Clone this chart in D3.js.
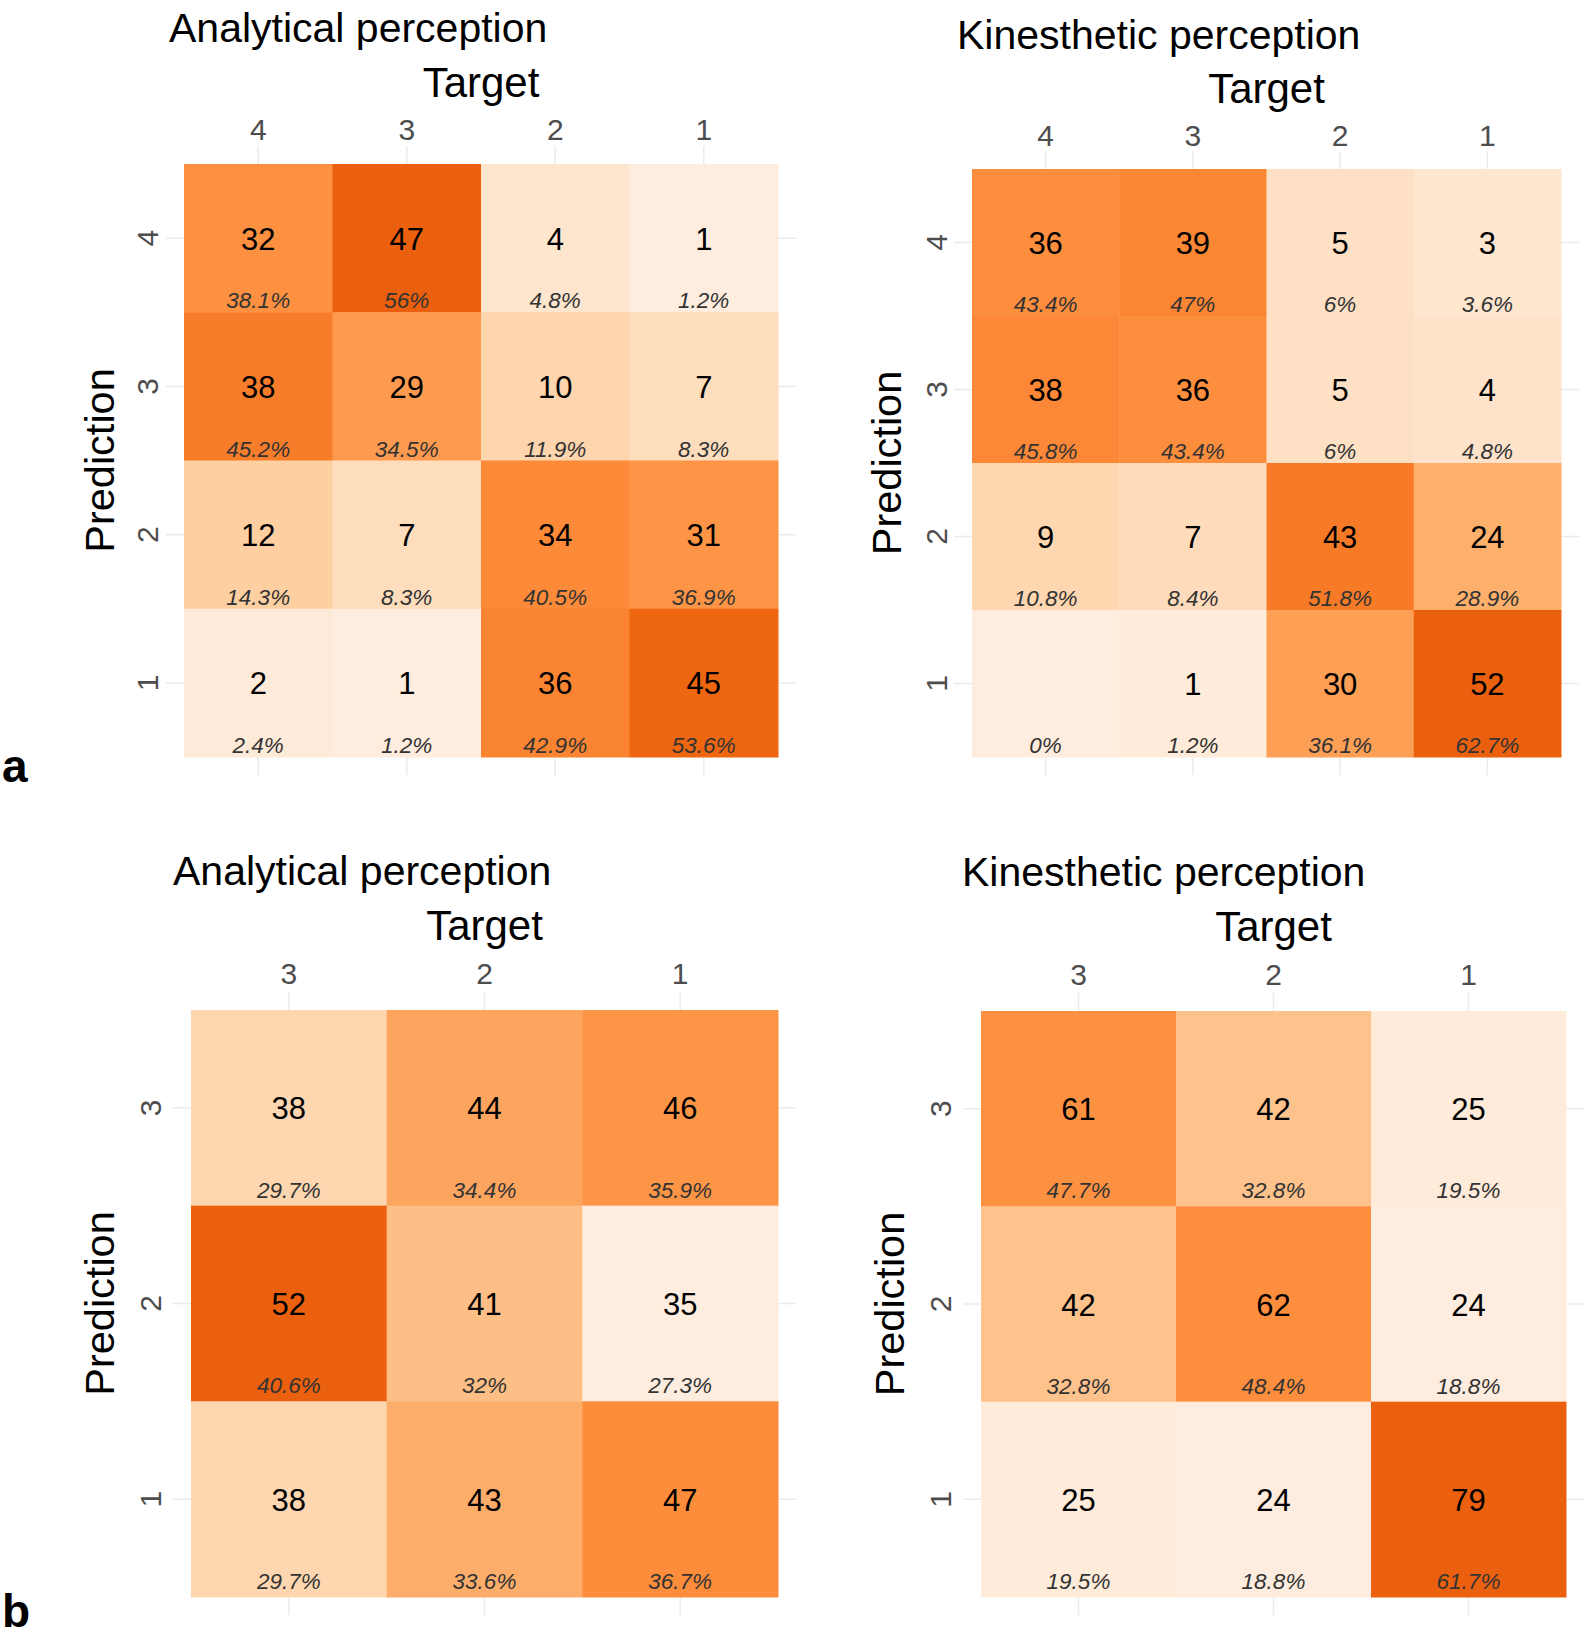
<!DOCTYPE html>
<html>
<head>
<meta charset="utf-8">
<script src="https://cdn.jsdelivr.net/npm/d3@7"></script>
<style>
  html, body { margin: 0; padding: 0; background: #fff; }
  svg { display: block; font-family: "Liberation Sans", Arial, sans-serif; }
</style>
</head>
<body>
<svg id="chart" width="1594" height="1640"></svg>
<script>
// ---------------- data ----------------
const classes4 = ["4", "3", "2", "1"];
const classes3 = ["3", "2", "1"];

// rows = Prediction (top to bottom), columns = Target (left to right)
const analyticalA_counts = [
  [32, 47, 4, 1],
  [38, 29, 10, 7],
  [12, 7, 34, 31],
  [2, 1, 36, 45]
];
const analyticalA_pct = [
  ["38.1%", "56%", "4.8%", "1.2%"],
  ["45.2%", "34.5%", "11.9%", "8.3%"],
  ["14.3%", "8.3%", "40.5%", "36.9%"],
  ["2.4%", "1.2%", "42.9%", "53.6%"]
];
const kinestheticA_counts = [
  [36, 39, 5, 3],
  [38, 36, 5, 4],
  [9, 7, 43, 24],
  [0, 1, 30, 52]
];
const kinestheticA_pct = [
  ["43.4%", "47%", "6%", "3.6%"],
  ["45.8%", "43.4%", "6%", "4.8%"],
  ["10.8%", "8.4%", "51.8%", "28.9%"],
  ["0%", "1.2%", "36.1%", "62.7%"]
];
const analyticalB_counts = [
  [38, 44, 46],
  [52, 41, 35],
  [38, 43, 47]
];
const analyticalB_pct = [
  ["29.7%", "34.4%", "35.9%"],
  ["40.6%", "32%", "27.3%"],
  ["29.7%", "33.6%", "36.7%"]
];
const kinestheticB_counts = [
  [61, 42, 25],
  [42, 62, 24],
  [25, 24, 79]
];
const kinestheticB_pct = [
  ["47.7%", "32.8%", "19.5%"],
  ["32.8%", "48.4%", "18.8%"],
  ["19.5%", "18.8%", "61.7%"]
];

const panelTitles = ["Analytical perception", "Kinesthetic perception"];
const figureLetters = ["a", "b"];

// Brewer "Oranges" 7-class palette (scale_fill_distiller)
const oranges7 = ["#FEEDDE", "#FDD0A2", "#FDAE6B", "#FD8D3C", "#F16913", "#D94801", "#8C2D04"];

// ---------------- drawing ----------------
const svg = d3.select("#chart");

function drawPanel(cfg) {
  const g = svg.append("g");
  const cats = cfg.classes;
  const x = d3.scaleBand().domain(cats).range([cfg.x0, cfg.x1]);
  const y = d3.scaleBand().domain(cats).range([cfg.y0, cfg.y1]);

  const flat = [];
  cfg.counts.forEach((row, i) => row.forEach((v, j) => {
    flat.push({ pred: cats[i], target: cats[j], n: v, pct: cfg.pct[i][j] });
  }));
  const vals = flat.map(d => d.n);
  const mn = d3.min(vals), mx = d3.max(vals), rng = mx - mn;
  const upper = mx + 10 * (1 - 0.8) * (rng / 5);
  const interp = d3.piecewise(d3.interpolateLab, oranges7);
  const color = d3.scaleLinear().domain([mn, upper]).range([0, 1]).clamp(true);
  const fill = v => interp(color(v));

  const ext = 18;
  // grid lines (theme_minimal)
  g.append("g").selectAll("line.v").data(cats).join("line")
    .attr("x1", d => x(d) + x.bandwidth() / 2).attr("x2", d => x(d) + x.bandwidth() / 2)
    .attr("y1", cfg.y0 - ext).attr("y2", cfg.y1 + ext)
    .attr("stroke", "#EBEBEB").attr("stroke-width", 1.5);
  g.append("g").selectAll("line.h").data(cats).join("line")
    .attr("y1", d => y(d) + y.bandwidth() / 2).attr("y2", d => y(d) + y.bandwidth() / 2)
    .attr("x1", cfg.x0 - ext).attr("x2", cfg.x1 + ext)
    .attr("stroke", "#EBEBEB").attr("stroke-width", 1.5);

  // tiles
  g.append("g").selectAll("rect").data(flat).join("rect")
    .attr("x", d => x(d.target)).attr("y", d => y(d.pred))
    .attr("width", x.bandwidth() + 0.5).attr("height", y.bandwidth() + 0.5)
    .attr("fill", d => fill(d.n));

  // counts
  g.append("g").selectAll("text").data(flat.filter(d => d.n !== 0)).join("text")
    .attr("x", d => x(d.target) + x.bandwidth() / 2)
    .attr("y", d => y(d.pred) + y.bandwidth() / 2 + 1)
    .attr("text-anchor", "middle").attr("dominant-baseline", "central")
    .attr("font-size", 31).attr("fill", "#000")
    .text(d => d.n);

  // column percentages
  g.append("g").selectAll("text").data(flat).join("text")
    .attr("x", d => x(d.target) + x.bandwidth() / 2)
    .attr("y", d => y(d.pred) + y.bandwidth() / 2 + 0.41 * y.bandwidth() + 2)
    .attr("text-anchor", "middle").attr("dominant-baseline", "central")
    .attr("font-size", 22.5).attr("font-style", "italic").attr("fill", "#333")
    .text(d => d.pct);

  // top x-axis tick labels
  g.append("g").selectAll("text").data(cats).join("text")
    .attr("x", d => x(d) + x.bandwidth() / 2).attr("y", cfg.tickY)
    .attr("text-anchor", "middle").attr("font-size", 30).attr("fill", "#4D4D4D")
    .text(d => d);

  // left y-axis tick labels (rotated)
  g.append("g").selectAll("text").data(cats).join("text")
    .attr("transform", d => `translate(${cfg.ytickX},${y(d) + y.bandwidth() / 2}) rotate(-90)`)
    .attr("text-anchor", "middle").attr("font-size", 30).attr("fill", "#4D4D4D")
    .text(d => d);

  // axis titles
  g.append("text").attr("x", (cfg.x0 + cfg.x1) / 2).attr("y", cfg.targetY)
    .attr("text-anchor", "middle").attr("font-size", 42).attr("fill", "#000").text("Target");
  g.append("text")
    .attr("transform", `translate(${cfg.predX},${(cfg.y0 + cfg.y1) / 2}) rotate(-90)`)
    .attr("text-anchor", "middle").attr("font-size", 41.5).attr("fill", "#000").text("Prediction");

  // plot title
  g.append("text").attr("x", cfg.titleX).attr("y", cfg.titleY)
    .attr("text-anchor", "start").attr("font-size", 41).attr("fill", "#000").text(cfg.title);
}

drawPanel({ classes: classes4, counts: analyticalA_counts, pct: analyticalA_pct, title: panelTitles[0],
  x0: 184, x1: 778, y0: 164, y1: 757, tickY: 140, ytickX: 158, targetY: 97, predX: 114, titleX: 169, titleY: 42 });
drawPanel({ classes: classes4, counts: kinestheticA_counts, pct: kinestheticA_pct, title: panelTitles[1],
  x0: 972, x1: 1561, y0: 169, y1: 757, tickY: 146, ytickX: 947, targetY: 103, predX: 901, titleX: 957, titleY: 49 });
drawPanel({ classes: classes3, counts: analyticalB_counts, pct: analyticalB_pct, title: panelTitles[0],
  x0: 191, x1: 778, y0: 1010, y1: 1597, tickY: 984, ytickX: 161, targetY: 940, predX: 114, titleX: 173, titleY: 885 });
drawPanel({ classes: classes3, counts: kinestheticB_counts, pct: kinestheticB_pct, title: panelTitles[1],
  x0: 981, x1: 1566, y0: 1011, y1: 1597, tickY: 985, ytickX: 951, targetY: 941, predX: 904, titleX: 962, titleY: 886 });

// figure letters
svg.append("text").attr("x", 2).attr("y", 782).attr("font-size", 46).attr("font-weight", "bold")
  .attr("fill", "#000").text(figureLetters[0]);
svg.append("text").attr("x", 2).attr("y", 1627).attr("font-size", 46).attr("font-weight", "bold")
  .attr("fill", "#000").text(figureLetters[1]);
</script>
</body>
</html>
